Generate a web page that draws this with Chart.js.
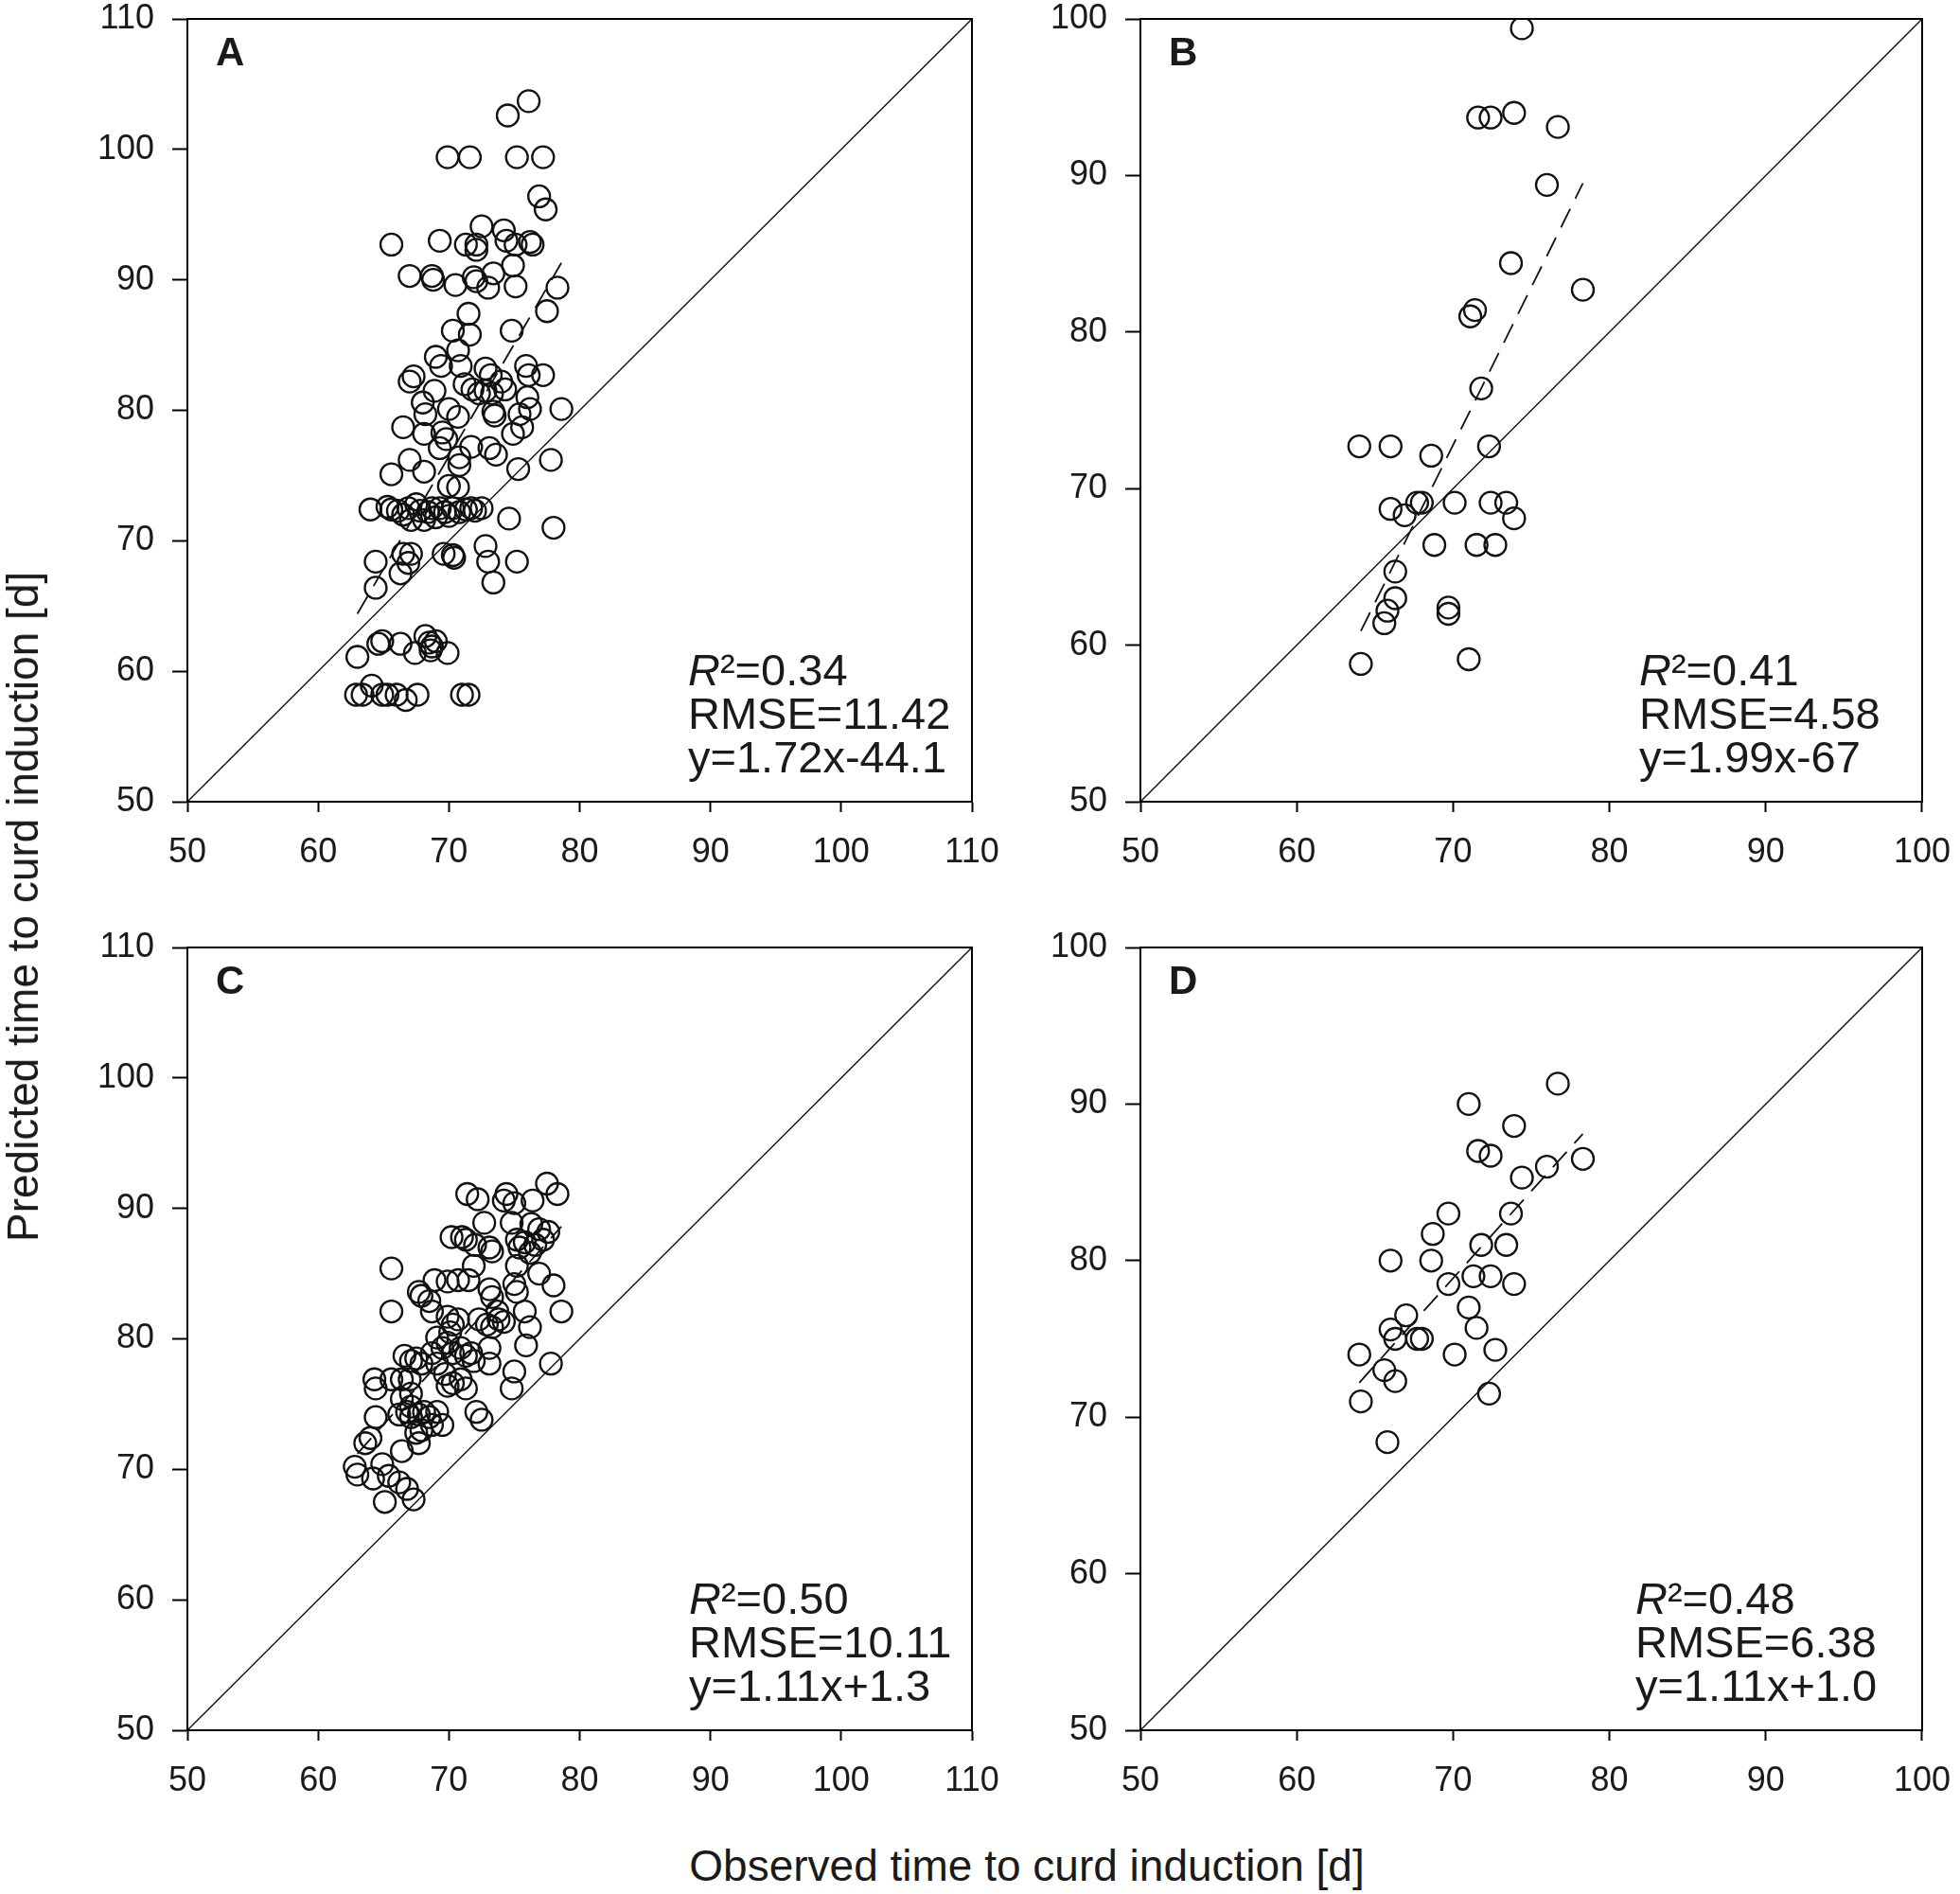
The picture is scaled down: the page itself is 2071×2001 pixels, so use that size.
<!DOCTYPE html>
<html>
<head>
<meta charset="utf-8">
<script src="https://cdn.jsdelivr.net/npm/chart.js@4.4.1/dist/chart.umd.min.js"></script>
<style>
html, body { margin: 0; padding: 0; background: #fff; }
body { width: 2071px; height: 2001px; position: relative; overflow: hidden;
       font-family: 'Liberation Sans', Arial, sans-serif; }
canvas { position: absolute; }
.title { position: absolute; font-size: 46px; color: #1a1a1a; white-space: nowrap;
         transform: translate(-50%, -50%); }
</style>
</head>
<body>
<canvas id="chartA" width="1100" height="977" style="left:0px;top:-17px;width:1100px;height:977px"></canvas>
<canvas id="chartB" width="986" height="977" style="left:1100px;top:-17px;width:986px;height:977px"></canvas>
<canvas id="chartC" width="1100" height="977" style="left:0px;top:964px;width:1100px;height:977px"></canvas>
<canvas id="chartD" width="986" height="977" style="left:1100px;top:964px;width:986px;height:977px"></canvas>
<div class="title" style="left:24px;top:958px;transform:translate(-50%,-50%) rotate(-90deg)">Predicted time to curd induction [d]</div>
<div class="title" style="left:1085px;top:1971px">Observed time to curd induction [d]</div>
<script>
// axis ranges
var rangeAC = [50, 110];
var rangeBD = [50, 100];

// panel A
var obsA = [76.1,74.5,69.9,71.6,75.2,77.2,76.9,77.4,65.6,69.3,72.5,74.2,71.3,72.1,72.1,74.4,75.1,76.2,76.4,74.9,
  67.0,68.7,68.8,70.5,71.9,72.1,73.4,73.0,75.1,78.3,77.5,71.5,71.6,70.3,74.8,70.7,69.0,69.4,70.9,67.3,
  67.0,72.8,73.2,75.9,76.1,77.2,71.2,71.8,72.3,72.8,73.3,74.0,74.3,68.9,68.0,68.2,76.0,78.6,70.0,70.7,
  73.4,73.5,75.4,75.6,76.2,66.5,74.9,68.1,69.5,69.8,71.7,69.3,73.1,73.6,67.0,70.8,70.8,77.8,65.6,68.1,
  75.3,70.0,70.7,
  64.0,65.3,65.6,66.1,66.5,66.9,67.1,67.5,67.8,68.1,68.4,68.7,69.0,69.3,69.7,70.0,70.3,70.8,71.3,71.7,
  72.0,72.5,74.6,78.0,66.5,67.1,66.9,66.3,64.4,64.4,69.6,70.3,70.4,72.8,73.0,75.2,73.4,
  63.0,64.6,64.9,66.3,67.4,68.2,68.5,68.7,68.6,69.0,69.9,
  62.9,63.4,64.1,64.9,65.3,66.0,66.7,67.6,71.0,71.5];
var predA = [103.7,102.6,99.4,99.4,99.4,99.4,96.4,95.4,92.7,93.0,94.1,93.8,92.7,92.7,92.3,93.0,92.7,92.9,92.7,91.1,
  90.3,90.3,90.0,89.6,90.2,89.9,90.5,89.4,89.5,89.4,87.6,87.4,85.8,86.1,86.1,84.6,84.1,83.4,83.4,82.6,
  82.2,83.2,82.7,83.4,82.7,82.7,82.0,81.6,81.3,81.5,81.3,82.2,81.6,81.5,80.6,79.7,81.0,80.1,80.1,79.5,
  79.9,79.6,79.7,78.7,80.1,78.7,78.2,78.2,78.3,77.8,77.2,77.1,77.1,76.6,76.2,76.4,75.8,76.2,75.1,75.3,
  75.5,74.2,74.1,
  72.4,72.6,72.4,72.3,72.0,72.5,71.6,72.8,72.3,71.6,72.2,72.5,71.8,72.5,72.2,71.9,72.5,72.2,72.4,72.5,
  72.3,72.5,71.7,71.0,69.0,69.0,68.3,67.5,68.4,66.4,69.0,68.9,68.7,69.6,68.4,68.4,66.8,
  61.1,62.1,62.3,62.1,61.4,62.7,62.2,61.9,61.6,62.3,61.4,
  58.2,58.2,58.9,58.2,58.2,58.2,57.8,58.2,58.2,58.2];
var fitAx = [63.0, 78.6];
var fitAy = [64.4, 91.3];
var statsA = ['=0.34', 'RMSE=11.42', 'y=1.72x-44.1'];

// panel B
var obsB = [74.4,71.6,72.4,73.9,76.7,76.0,73.7,78.3,71.1,71.4,71.8,64.0,66.0,68.6,72.3,70.1,67.7,68.0,66.0,66.9,
  72.4,73.4,73.9,68.8,71.5,72.7,66.3,66.3,65.8,65.6,69.7,69.7,64.1,71.0];
var predB = [99.4,93.7,93.7,94.0,93.1,89.4,84.4,82.7,81.0,81.4,76.4,72.7,72.7,72.1,72.7,69.1,69.1,69.1,68.7,68.3,
  69.1,69.1,68.1,66.4,66.4,66.4,64.7,63.0,62.2,61.4,62.4,62.0,58.8,59.1];
var fitBx = [64.1, 78.3];
var fitBy = [60.9, 89.5];
var statsB = ['=0.41', 'RMSE=4.58', 'y=1.99x-67'];

// panel C
var obsC = [77.5,78.3,71.4,72.2,74.4,74.2,75.0,76.4,72.7,74.8,76.3,76.9,77.6,70.2,71.0,71.3,73.1,73.3,72.0,75.2,
  75.4,75.8,76.6,77.2,65.6,71.9,75.2,76.2,76.9,78.0,67.7,67.9,68.9,69.9,70.7,71.5,73.1,73.3,75.0,75.2,
  65.6,68.5,68.7,69.9,70.3,70.7,70.1,72.3,72.9,73.3,73.8,74.2,73.7,75.8,76.2,78.6,69.1,69.5,69.9,70.3,
  70.9,71.3,71.7,71.9,73.1,73.1,75.9,66.6,67.1,67.5,67.9,68.7,69.1,77.8,64.3,64.4,65.6,66.4,67.0,66.4,
  67.1,69.7,70.3,70.9,71.3,69.9,75.0,74.8,64.4,66.2,66.8,67.1,67.7,68.1,68.5,69.1,69.5,67.9,68.7,67.5,
  67.1,72.1,72.5,63.6,64.0,67.7,66.4,62.8,63.0,64.2,64.9,65.4,66.2,66.8,65.1,67.3];
var predC = [91.9,91.1,91.1,90.7,91.1,90.6,90.4,90.6,88.9,88.9,88.8,88.4,88.2,87.8,87.8,87.6,87.0,86.7,87.2,87.6,
  87.0,87.4,87.2,87.6,85.4,85.6,85.6,86.6,85.0,84.1,83.6,83.3,84.5,84.4,84.5,84.5,83.8,83.2,84.2,83.6,
  82.1,82.9,82.1,81.7,81.1,81.5,80.5,81.5,81.1,80.9,81.5,81.3,82.1,82.1,80.9,82.1,80.1,79.3,79.7,78.9,
  79.3,78.7,78.9,78.3,79.3,78.1,79.5,78.7,78.3,78.5,78.1,78.9,78.1,78.1,76.9,76.2,76.9,76.9,76.9,75.4,
  75.8,77.3,76.6,76.9,76.2,76.4,77.5,76.2,74.0,74.2,74.4,74.0,74.2,74.4,74.0,74.4,73.4,73.0,73.4,72.8,
  74.8,74.4,73.8,72.0,72.4,72.0,71.4,70.2,69.6,69.3,70.4,69.5,69.0,68.5,67.5,67.7];
var fitCx = [63.0, 78.6];
var fitCy = [71.2, 88.6];
var statsC = ['=0.50', 'RMSE=10.11', 'y=1.11x+1.3'];

// panel D
var obsD = [76.7,71.0,73.9,71.6,72.4,78.3,76.0,74.4,69.7,73.7,68.7,71.8,73.4,66.0,68.6,71.3,72.4,69.7,73.9,71.0,
  67.0,71.5,66.0,66.3,67.7,68.0,64.0,70.1,72.7,65.6,66.3,64.1,72.3,65.8];
var predD = [91.3,90.0,88.6,87.0,86.7,86.5,86.0,85.3,83.0,83.0,81.7,81.0,81.0,80.0,80.0,79.0,79.0,78.5,78.5,77.0,
  76.5,75.7,75.6,75.0,75.0,75.0,74.0,74.0,74.3,73.0,72.3,71.0,71.5,68.4];
var fitDx = [64.0, 78.3];
var fitDy = [72.2, 88.1];
var statsD = ['=0.48', 'RMSE=6.38', 'y=1.11x+1.0'];

var FONT = "'Liberation Sans', Arial, sans-serif";
var INK = '#1a1a1a';

function toPoints(xs, ys) {
  return xs.map(function (x, i) { return { x: x, y: ys[i] }; });
}

function makePanel(id, letter, obs, pred, fitX, fitY, range, stats, yWidth, padRight, textLeft) {
  // frame, panel letter and the statistics block
  var decor = {
    id: 'decor_' + id,
    afterDraw: function (chart) {
      var ctx = chart.ctx, a = chart.chartArea;
      ctx.save();
      ctx.strokeStyle = '#000';
      ctx.lineWidth = 2;
      ctx.strokeRect(a.left, a.top, a.right - a.left, a.bottom - a.top);

      ctx.fillStyle = INK;
      ctx.textBaseline = 'alphabetic';
      ctx.font = 'bold 42px ' + FONT;
      ctx.fillText(letter, a.left + 30, a.top + 49);

      ctx.textBaseline = 'middle';
      var x0 = a.left + textLeft;
      var rows = [a.bottom - 136, a.bottom - 90, a.bottom - 44];
      ctx.font = 'italic 47px ' + FONT;
      ctx.fillText('R', x0, rows[0]);
      var w = ctx.measureText('R').width;
      ctx.font = '47px ' + FONT;
      ctx.fillText('\u00B2' + stats[0], x0 + w, rows[0]);
      ctx.fillText(stats[1], x0, rows[1]);
      ctx.fillText(stats[2], x0, rows[2]);
      ctx.restore();
    }
  };

  var tickFont = { family: FONT, size: 36, lineHeight: 1 };

  return new Chart(document.getElementById(id), {
    type: 'scatter',
    data: {
      datasets: [
        {
          data: toPoints(obs, pred),
          pointRadius: 11.5,
          pointHoverRadius: 11.5,
          borderWidth: 2.3,
          borderColor: '#111',
          backgroundColor: 'rgba(0,0,0,0)'
        },
        {
          type: 'line',
          data: toPoints(fitX, fitY),
          borderColor: '#111',
          borderWidth: 1.8,
          borderDash: [22, 12],
          pointRadius: 0,
          fill: false
        },
        {
          type: 'line',
          data: toPoints(range, range),
          borderColor: '#111',
          borderWidth: 1.4,
          pointRadius: 0,
          fill: false
        }
      ]
    },
    options: {
      responsive: false,
      animation: false,
      devicePixelRatio: 1,
      layout: { padding: { left: 0, top: 0, right: padRight, bottom: 0 } },
      plugins: { legend: { display: false }, tooltip: { enabled: false } },
      scales: {
        x: {
          type: 'linear',
          min: range[0],
          max: range[1],
          afterFit: function (s) { s.height = 113; },
          ticks: { stepSize: 10, autoSkip: false, padding: 25, color: INK, font: tickFont, maxRotation: 0 },
          grid: { drawOnChartArea: false, drawTicks: true, tickLength: 11, tickWidth: 2, tickColor: '#000' },
          border: { display: true, color: '#000', width: 2 }
        },
        y: {
          type: 'linear',
          min: range[0],
          max: range[1],
          afterFit: function (s) { s.width = yWidth; },
          ticks: { stepSize: 10, autoSkip: false, padding: 19, color: INK, font: tickFont },
          grid: { drawOnChartArea: false, drawTicks: true, tickLength: 16, tickWidth: 2, tickColor: '#000' },
          border: { display: true, color: '#000', width: 2 }
        }
      }
    },
    plugins: [decor]
  });
}

makePanel('chartA', 'A', obsA, predA, fitAx, fitAy, rangeAC, statsA, 198, 73, 529);
makePanel('chartB', 'B', obsB, predB, fitBx, fitBy, rangeBD, statsB, 105, 55, 527);
makePanel('chartC', 'C', obsC, predC, fitCx, fitCy, rangeAC, statsC, 198, 73, 530);
makePanel('chartD', 'D', obsD, predD, fitDx, fitDy, rangeBD, statsD, 105, 55, 523);
</script>
</body>
</html>
